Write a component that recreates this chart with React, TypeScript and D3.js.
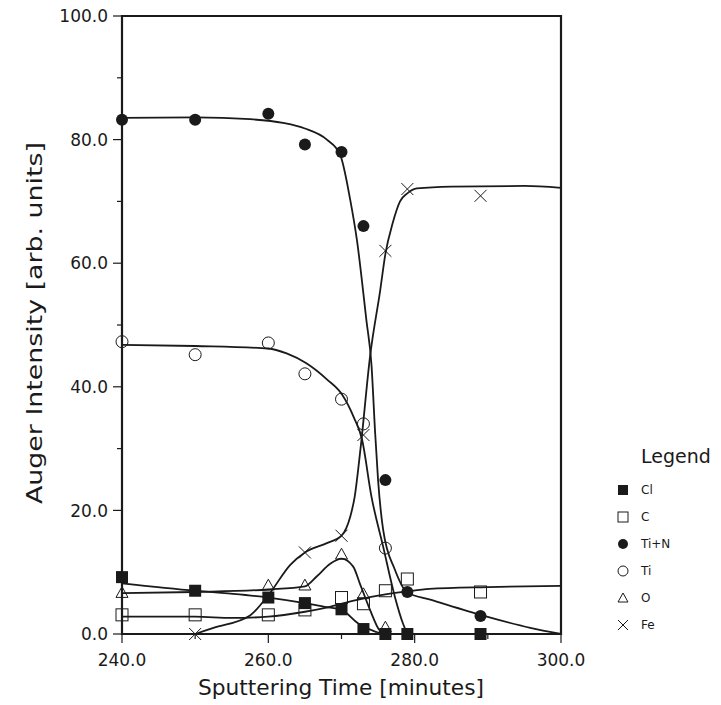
import * as d3 from 'd3';

// measured points (time in minutes, intensity in arb. units)
const clTimes = [240, 250, 260, 265, 270, 273, 276, 279, 289];
const clValues = [9.2, 7.0, 5.9, 5.0, 4.0, 0.8, 0, 0, 0];

const cTimes = [240, 250, 260, 265, 270, 273, 276, 279, 289];
const cValues = [3.1, 3.1, 3.1, 3.9, 5.9, 4.9, 7.0, 8.9, 6.8];

const tinTimes = [240, 250, 260, 265, 270, 273, 276, 279, 289];
const tinValues = [83.2, 83.2, 84.2, 79.2, 78.0, 66.0, 24.9, 6.8, 2.9];

const tiTimes = [240, 250, 260, 265, 270, 273, 276];
const tiValues = [47.3, 45.2, 47.1, 42.1, 38.0, 34.0, 13.9];

const oTimes = [240, 260, 265, 270, 273, 276];
const oValues = [6.7, 7.9, 7.9, 12.9, 6.5, 1.1];

const feTimes = [250, 265, 270, 273, 276, 279, 289];
const feValues = [0, 13.2, 15.9, 32.2, 62.0, 72.0, 70.9];

// fitted curves as drawn in the figure
const clCurveT = [240, 250, 254, 260, 265, 267.7, 270, 272.3, 274.6, 276, 300];
const clCurveV = [8.2, 7.0, 6.6, 5.9, 5.0, 4.4, 3.9, 1.7, 0.4, 0, 0];

const cCurveT = [240, 250, 255, 260, 265, 268.4, 272, 276, 279, 282, 290, 300];
const cCurveV = [2.8, 2.8, 2.6, 2.8, 3.6, 4.4, 5.5, 6.4, 6.9, 7.3, 7.6, 7.8];

const tinCurveT = [240, 250, 257.5, 262, 265, 268, 269.8, 271.2, 272.1, 273.4, 274.1, 274.6, 275.0, 275.7, 277.3, 279, 282, 289, 295.8, 300];
const tinCurveV = [83.5, 83.6, 83.3, 82.7, 81.8, 80.0, 77.6, 70.2, 63.8, 50.8, 43.5, 32.5, 24.9, 16.8, 10.4, 6.7, 5.6, 3.1, 1.0, 0];

const tiCurveT = [240, 250, 260, 262.5, 265.2, 268, 270.1, 271.7, 272.8, 274.1, 275.7, 277.3, 278.4, 279];
const tiCurveV = [46.8, 46.6, 46.2, 45.4, 43.8, 41.2, 38.7, 35.0, 31.5, 22.2, 14.1, 6.0, 1.7, 0];

const oCurveT = [240, 250, 260, 265, 266.6, 268.5, 270, 271.6, 272.5, 273.9, 275.2, 276];
const oCurveV = [6.6, 6.8, 7.2, 7.7, 9.3, 11.4, 12.2, 10.9, 8.2, 3.9, 0.6, 0];

const feCurveT = [250, 252.5, 257.5, 260.2, 263, 265, 268, 270, 271.2, 271.8, 272.6, 273.9, 275.3, 276, 277, 278, 279, 280.3, 285, 295, 300];
const feCurveV = [0, 1.0, 3.0, 6.6, 11.2, 13.2, 14.7, 15.9, 19.0, 22.2, 30.0, 44.9, 55.7, 61.5, 66.5, 70.0, 71.3, 72.1, 72.4, 72.5, 72.2];

const xTicks = [240, 260, 280, 300];
const xMinor = [250, 270, 290];
const yTicks = [0, 20, 40, 60, 80, 100];
const yMinor = [10, 30, 50, 70, 90];

const legendNames = ['Cl', 'C', 'Ti+N', 'Ti', 'O', 'Fe'];

type Shape = 'fsquare' | 'square' | 'fcircle' | 'circle' | 'triangle' | 'cross';

const font = '"DejaVu Sans", sans-serif';
const ink = '#1a1a1a';

const Marker = ({ shape, x, y, s }: { shape: Shape; x: number; y: number; s: number }) => {
  const h = s / 2;
  if (shape === 'fsquare') return <rect x={x - h} y={y - h} width={s} height={s} fill={ink} />;
  if (shape === 'square') return <rect x={x - h} y={y - h} width={s} height={s} fill="none" stroke={ink} strokeWidth={1} />;
  if (shape === 'fcircle') return <circle cx={x} cy={y} r={h} fill={ink} />;
  if (shape === 'circle') return <circle cx={x} cy={y} r={h} fill="none" stroke={ink} strokeWidth={1} />;
  if (shape === 'triangle') {
    return (
      <path
        d={`M${x},${y - h}L${x + h},${y + h * 0.8}L${x - h},${y + h * 0.8}Z`}
        fill="none"
        stroke={ink}
        strokeWidth={1}
      />
    );
  }
  return (
    <path d={`M${x - h},${y - h}L${x + h},${y + h}M${x + h},${y - h}L${x - h},${y + h}`} stroke={ink} strokeWidth={1} />
  );
};

export default function App() {
  const left = 122;
  const right = 561;
  const top = 16;
  const bottom = 634;

  const x = d3.scaleLinear().domain([240, 300]).range([left, right]);
  const y = d3.scaleLinear().domain([0, 100]).range([bottom, top]);

  const line = d3
    .line<[number, number]>()
    .x((d) => x(d[0]))
    .y((d) => y(d[1]))
    .curve(d3.curveMonotoneX);

  const zip = (t: number[], v: number[]) => t.map((ti, i) => [ti, v[i]] as [number, number]);

  const curves = [
    zip(clCurveT, clCurveV),
    zip(cCurveT, cCurveV),
    zip(tinCurveT, tinCurveV),
    zip(tiCurveT, tiCurveV),
    zip(oCurveT, oCurveV),
    zip(feCurveT, feCurveV),
  ];

  const series: { shape: Shape; pts: [number, number][] }[] = [
    { shape: 'square', pts: zip(cTimes, cValues) },
    { shape: 'triangle', pts: zip(oTimes, oValues) },
    { shape: 'cross', pts: zip(feTimes, feValues) },
    { shape: 'circle', pts: zip(tiTimes, tiValues) },
    { shape: 'fsquare', pts: zip(clTimes, clValues) },
    { shape: 'fcircle', pts: zip(tinTimes, tinValues) },
  ];

  const legendShapes: Shape[] = ['fsquare', 'square', 'fcircle', 'circle', 'triangle', 'cross'];

  return (
    <svg width={721} height={705} style={{ position: 'absolute', left: 0, top: 0, background: '#fff' }}>
      {curves.map((c, i) => (
        <path key={i} d={line(c) ?? ''} fill="none" stroke={ink} strokeWidth={1.8} />
      ))}

      {series.map((s, i) => (
        <g key={i}>
          {s.pts.map((p, j) => (
            <Marker key={j} shape={s.shape} x={x(p[0])} y={y(p[1])} s={12} />
          ))}
        </g>
      ))}

      {/* frame */}
      <path
        d={`M${left},${bottom}L${left},${top}L${right},${top}L${right},${bottom}Z`}
        fill="none"
        stroke={ink}
        strokeWidth={2.2}
      />

      {/* y axis */}
      {yTicks.map((t) => (
        <g key={t}>
          <line x1={left - 9} x2={left} y1={y(t)} y2={y(t)} stroke={ink} strokeWidth={1.2} />
          <text x={left - 14} y={y(t)} dy="0.36em" textAnchor="end" fontFamily={font} fontSize={17} fill={ink}>
            {t.toFixed(1)}
          </text>
        </g>
      ))}
      {yMinor.map((t) => (
        <line key={t} x1={left - 5} x2={left} y1={y(t)} y2={y(t)} stroke={ink} strokeWidth={1.2} />
      ))}

      {/* x axis */}
      {xTicks.map((t) => (
        <g key={t}>
          <line x1={x(t)} x2={x(t)} y1={bottom} y2={bottom + 9} stroke={ink} strokeWidth={1.2} />
          <text x={x(t)} y={bottom + 32} textAnchor="middle" fontFamily={font} fontSize={17} fill={ink}>
            {t.toFixed(1)}
          </text>
        </g>
      ))}
      {xMinor.map((t) => (
        <line key={t} x1={x(t)} x2={x(t)} y1={bottom} y2={bottom + 5} stroke={ink} strokeWidth={1.2} />
      ))}

      <text
        x={341}
        y={695}
        textAnchor="middle"
        fontFamily={font}
        fontSize={21}
        textLength={286}
        lengthAdjust="spacingAndGlyphs"
        fill={ink}
      >
        Sputtering Time [minutes]
      </text>
      <text
        transform={`translate(42,323) rotate(-90)`}
        textAnchor="middle"
        fontFamily={font}
        fontSize={22}
        textLength={362}
        lengthAdjust="spacingAndGlyphs"
        fill={ink}
      >
        Auger Intensity [arb. units]
      </text>

      {/* legend */}
      <text x={641} y={463} fontFamily={font} fontSize={19} fill={ink}>
        Legend
      </text>
      {legendNames.map((n, i) => (
        <g key={n}>
          <Marker shape={legendShapes[i]} x={623} y={490 + i * 27} s={10} />
          <text x={641} y={490 + i * 27} dy="0.36em" fontFamily={font} fontSize={12} fill={ink}>
            {n}
          </text>
        </g>
      ))}
    </svg>
  );
}
